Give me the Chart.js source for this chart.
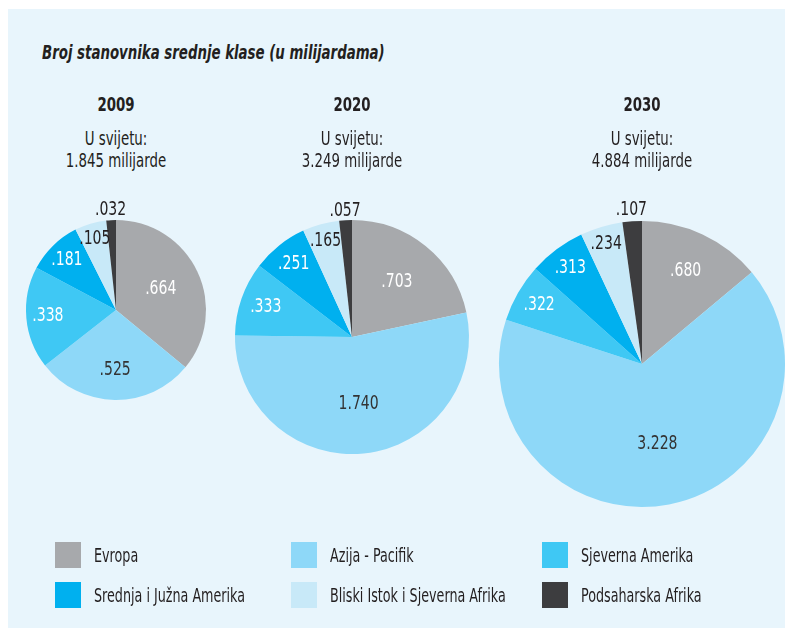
<!DOCTYPE html>
<html>
<head>
<meta charset="utf-8">
<script src="https://cdn.jsdelivr.net/npm/chart.js@4"></script>
<style>
  body { margin: 0; background: #fff; }
  #page { position: absolute; left: 0; top: 0; width: 785px; height: 628px; overflow: hidden;
          font-family: "DejaVu Sans Condensed", "DejaVu Sans", sans-serif; color: #231f20; }
  #panel { position: absolute; left: 8px; top: 9px; right: 0; bottom: 0; background: #e8f5fc; }
  canvas { position: absolute; left: 0; top: 0; }
  .squeeze { display: inline-block; transform: scaleX(0.78); white-space: nowrap; }
  .title { position: absolute; left: 42px; top: 41px; font-size: 19px; font-style: italic; font-weight: bold;
           line-height: 22px; transform-origin: left center; }
  .head { position: absolute; width: 200px; text-align: center; font-size: 19px; line-height: 22px;
          transform: scaleX(0.78); transform-origin: center; }
  .head b { display: block; margin-bottom: 12px; }
  .leg { position: absolute; display: flex; align-items: center; font-size: 19px; height: 26px; }
  .leg i { display: inline-block; width: 26px; height: 26px; margin-right: 13px; }
  .leg .squeeze { transform: scaleX(0.745); transform-origin: left center; }
</style>
</head>
<body>
<div id="page">
  <div id="panel"></div>
  <div class="title squeeze">Broj stanovnika srednje klase (u milijardama)</div>
</div>
<script>
const FONT = '"DejaVu Sans Condensed", "DejaVu Sans", sans-serif';
const SQUEEZE = 0.78;

const regions = ['Evropa', 'Azija - Pacifik', 'Sjeverna Amerika', 'Srednja i Južna Amerika',
                 'Bliski Istok i Sjeverna Afrika', 'Podsaharska Afrika'];
const years = ['2009', '2020', '2030'];
const worldTotals = ['1.845', '3.249', '4.884'];
const values2009 = [0.664, 0.525, 0.338, 0.181, 0.105, 0.032];
const values2020 = [0.703, 1.740, 0.333, 0.251, 0.165, 0.057];
const values2030 = [0.680, 3.228, 0.322, 0.313, 0.234, 0.107];

const colors = ['#a7a9ac', '#8ed8f8', '#3fc8f4', '#00b0ef', '#c8e9f8', '#3d3d3f'];
const labelColors = ['#fff', '#333', '#fff', '#fff', '#231f20', '#231f20'];

// pie placement (center x, center y, radius) and how far out each label sits
const pies = [
  { values: values2009, cx: 116, cy: 310, r: 90,  dist: [0.55, 0.67, 0.76, 0.78, 0.83, 1.11] },
  { values: values2020, cx: 352, cy: 337, r: 117, dist: [0.61, 0.57, 0.78, 0.80, 0.85, 1.08] },
  { values: values2030, cx: 642, cy: 364, r: 143, dist: [0.72, 0.57, 0.83, 0.84, 0.88, 1.08] },
];

const W = 785, H = 628;
const page = document.getElementById('page');

const fmt = (v) => v.toFixed(3).replace(/^0/, '');

const sliceLabels = {
  id: 'sliceLabels',
  afterDatasetsDraw(chart, args, opts) {
    const ctx = chart.ctx;
    const meta = chart.getDatasetMeta(0);
    const data = chart.data.datasets[0].data;
    ctx.font = '20px ' + FONT;
    ctx.textAlign = 'center';
    ctx.textBaseline = 'middle';
    meta.data.forEach((arc, i) => {
      const p = arc.getProps(['x', 'y', 'startAngle', 'endAngle', 'outerRadius'], true);
      const mid = (p.startAngle + p.endAngle) / 2;
      const d = p.outerRadius * opts.dist[i];
      ctx.save();
      ctx.translate(p.x + Math.cos(mid) * d, p.y + Math.sin(mid) * d);
      ctx.scale(SQUEEZE, 1);
      ctx.fillStyle = labelColors[i];
      ctx.fillText(fmt(data[i]), 0, 0);
      ctx.restore();
    });
  }
};

pies.forEach((pie, k) => {
  const head = document.createElement('div');
  head.className = 'head';
  head.style.left = (pie.cx - 100) + 'px';
  head.style.top = '93px';
  head.innerHTML = '<b>' + years[k] + '</b>U svijetu:<br>' + worldTotals[k] + ' milijarde';
  page.appendChild(head);

  const canvas = document.createElement('canvas');
  canvas.width = W;
  canvas.height = H;
  page.appendChild(canvas);

  new Chart(canvas, {
    type: 'pie',
    data: {
      labels: regions,
      datasets: [{ data: pie.values, backgroundColor: colors, borderWidth: 0 }],
    },
    options: {
      responsive: false,
      animation: false,
      events: [],
      layout: {
        padding: {
          left: pie.cx - pie.r,
          top: pie.cy - pie.r,
          right: W - pie.cx - pie.r,
          bottom: H - pie.cy - pie.r,
        },
      },
      plugins: {
        legend: { display: false },
        tooltip: { enabled: false },
        sliceLabels: { dist: pie.dist },
      },
    },
    plugins: [sliceLabels],
  });
});

// legend: 3 columns x 2 rows
const legX = [55, 291, 542];
const legY = [542, 582];
regions.forEach((name, i) => {
  const item = document.createElement('div');
  item.className = 'leg';
  item.style.left = legX[i % 3] + 'px';
  item.style.top = legY[Math.floor(i / 3)] + 'px';
  item.innerHTML = '<i style="background:' + colors[i] + '"></i><span class="squeeze">' + name + '</span>';
  page.appendChild(item);
});
</script>
</body>
</html>
